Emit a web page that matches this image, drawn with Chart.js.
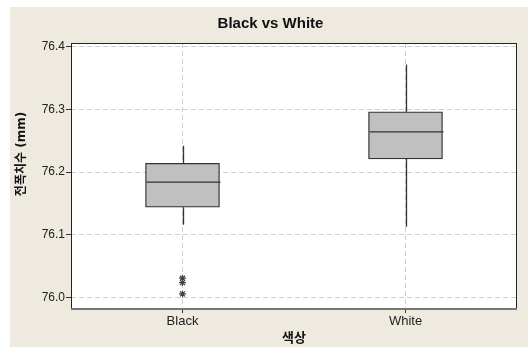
<!DOCTYPE html>
<html><head><meta charset="utf-8">
<script src="https://cdn.jsdelivr.net/npm/chart.js@4"></script>
<style>body{margin:0;background:#fff}canvas{display:block}</style>
</head><body>
<canvas id="chart" width="528" height="347"></canvas>
<script>
// box plot summary per group
const groups = ['Black', 'White'];
const q1 = [76.144, 76.221];
const medians = [76.184, 76.264];
const q3 = [76.214, 76.296];
const whiskerLow = [76.116, 76.113];
const whiskerHigh = [76.242, 76.371];
const outlierGroup = [0, 0, 0];
const outlierValues = [76.031, 76.024, 76.006];
const yTicks = [76.0, 76.1, 76.2, 76.3, 76.4];
const yTitle = '전폭치수 (mm)';

const FONT = "'Liberation Sans', 'Noto Sans CJK KR', sans-serif";

// beige panel + white plot area + frame + y axis title
const panel = {
  id: 'panel',
  beforeDraw(chart){
    const {ctx, chartArea:a} = chart;
    ctx.save();
    ctx.fillStyle = '#ffffff';
    ctx.fillRect(0, 0, chart.width, chart.height);
    ctx.fillStyle = '#eeeae0';
    ctx.fillRect(10, 7, chart.width - 10, chart.height - 7);
    ctx.fillStyle = '#ffffff';
    ctx.fillRect(a.left, a.top, a.right - a.left, a.bottom - a.top);
    ctx.restore();
  },
  afterDraw(chart){
    const {ctx, chartArea:a} = chart;
    ctx.save();
    ctx.strokeStyle = '#222';
    ctx.lineWidth = 1;
    ctx.strokeRect(a.left + 0.5, a.top + 0.5, a.right - a.left - 1, a.bottom - a.top);
    ctx.strokeStyle = '#777';
    ctx.lineWidth = 2;
    ctx.beginPath(); ctx.moveTo(a.left, a.bottom); ctx.lineTo(a.right, a.bottom); ctx.stroke();
    // y axis title sits a bit above the middle in the original
    ctx.translate(22, 154);
    ctx.rotate(-Math.PI / 2);
    ctx.fillStyle = '#111';
    ctx.font = "bold 12px 'DejaVu Sans', 'Noto Sans CJK KR', sans-serif";
    ctx.textAlign = 'center';
    ctx.textBaseline = 'middle';
    ctx.fillText(yTitle, 0, 0);
    ctx.restore();
  }
};

// whiskers and median lines, placed through the chart's scales
const whiskers = {
  id: 'whiskers',
  afterDatasetsDraw(chart){
    const {ctx, scales:{x, y}} = chart;
    const half = chart.getDatasetMeta(0).data[0].width / 2;
    ctx.save();
    ctx.strokeStyle = '#333';
    ctx.lineWidth = 1.3;
    groups.forEach((g, i) => {
      const px = Math.round(x.getPixelForValue(i)) + 0.5;
      ctx.beginPath();
      ctx.moveTo(px, y.getPixelForValue(whiskerHigh[i]));
      ctx.lineTo(px, y.getPixelForValue(q3[i]));
      ctx.moveTo(px, y.getPixelForValue(q1[i]));
      ctx.lineTo(px, y.getPixelForValue(whiskerLow[i]));
      const my = y.getPixelForValue(medians[i]);
      ctx.moveTo(px - half, my);
      ctx.lineTo(px + half, my);
      ctx.stroke();
    });
    ctx.restore();
  }
};

new Chart(document.getElementById('chart'), {
  type: 'bar',
  data: {
    datasets: [{
      type: 'bar',
      data: groups.map((g, i) => ({x: i, y: [q1[i], q3[i]]})),
      backgroundColor: '#c0c0c0',
      borderColor: '#333',
      borderWidth: 1.3,
      borderSkipped: false,
      barThickness: 74
    }, {
      type: 'scatter',
      data: outlierValues.map((v, i) => ({x: outlierGroup[i], y: v})),
      pointStyle: 'star',
      radius: 3.5,
      borderColor: '#444',
      borderWidth: 1.2,
      backgroundColor: '#444'
    }]
  },
  options: {
    responsive: false,
    animation: false,
    layout: {padding: {left: 24, right: 11, top: 0, bottom: 0}},
    plugins: {
      legend: {display: false},
      tooltip: {enabled: false},
      title: {
        display: true,
        text: 'Black vs White',
        color: '#111',
        font: {family: FONT, size: 15, weight: 'bold'},
        padding: {top: 15, bottom: 10}
      }
    },
    scales: {
      x: {
        type: 'linear',
        offset: false,
        min: -0.5,
        max: 1.5,
        afterBuildTicks: s => { s.ticks = groups.map((g, i) => ({value: i})); },
        afterFit: s => { s.height = 38; },
        ticks: {
          color: '#222',
          font: {family: FONT, size: 13},
          padding: 1,
          callback: v => groups[v] ?? ''
        },
        grid: {offset: false, color: '#cfcfcf', tickColor: '#333', tickLength: 4, tickBorderDash: []},
        border: {display: false, dash: [5, 3]},
        title: {
          display: true,
          text: '색상',
          color: '#111',
          font: {family: FONT, size: 13, weight: 'bold'},
          padding: {top: 0, bottom: 1}
        }
      },
      y: {
        min: 75.982,
        max: 76.4054,
        afterBuildTicks: s => { s.ticks = yTicks.map(v => ({value: v})); },
        afterFit: s => { s.width = 47; },
        ticks: {
          color: '#222',
          font: {family: FONT, size: 12},
          padding: 1,
          callback: v => v.toFixed(1)
        },
        grid: {color: '#cfcfcf', tickColor: '#333', tickLength: 5, tickBorderDash: []},
        border: {display: false, dash: [5, 3]}
      }
    }
  },
  plugins: [panel, whiskers]
});
</script>
</body></html>
